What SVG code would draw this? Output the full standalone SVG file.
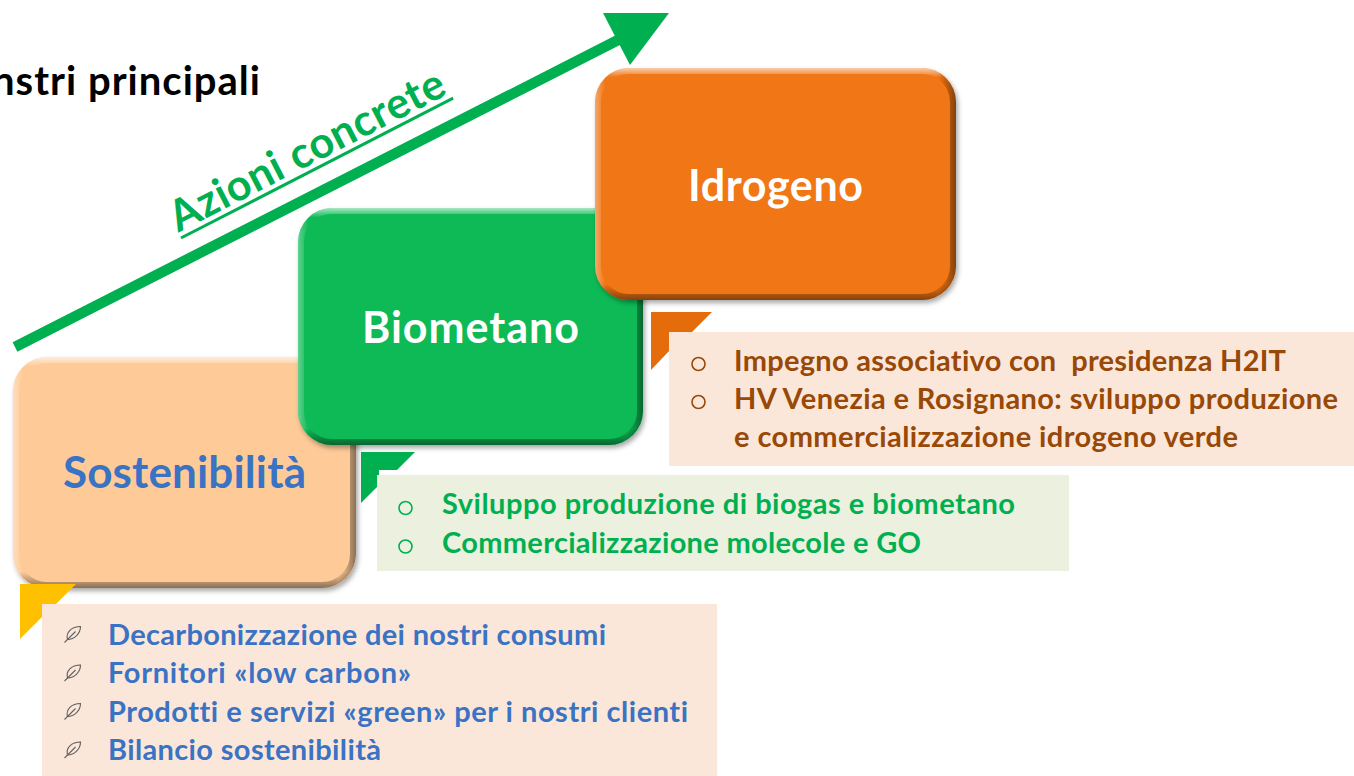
<svg xmlns="http://www.w3.org/2000/svg" width="1354" height="776" viewBox="0 0 1354 776">
<defs>
<style>
.lbl{font-family:Lato,'Open Sans','Liberation Sans',sans-serif;font-weight:700;font-variant-ligatures:none;font-feature-settings:"liga" 0,"clig" 0,"dlig" 0}
.box-title{font-size:43px;text-anchor:middle;fill:#FFFFFF}
.item{font-size:29px}
.blue{fill:#3A72C4}
.brown{fill:#984807}
.green{fill:#00B050}
.bevel-v{fill:none;stroke:url(#bevV);stroke-width:12}
.bevel-h{fill:none;stroke:url(#bevH);stroke-width:12}
.ring-g{fill:none;stroke:#00B050;stroke-width:1.6}
.ring-b{fill:none;stroke:#984807;stroke-width:1.6}
</style>
<linearGradient id="bevV" x1="0" y1="0" x2="0" y2="1">
<stop offset="0" stop-color="#FFFFFF" stop-opacity="0.65"/>
<stop offset="0.04" stop-color="#FFFFFF" stop-opacity="0"/>
<stop offset="0.93" stop-color="#000000" stop-opacity="0"/>
<stop offset="1" stop-color="#000000" stop-opacity="0.45"/>
</linearGradient>
<linearGradient id="bevH" x1="0" y1="0" x2="1" y2="0">
<stop offset="0" stop-color="#FFFFFF" stop-opacity="0.35"/>
<stop offset="0.03" stop-color="#FFFFFF" stop-opacity="0"/>
<stop offset="0.95" stop-color="#000000" stop-opacity="0"/>
<stop offset="1" stop-color="#000000" stop-opacity="0.45"/>
</linearGradient>
<filter id="shadow" x="-10%" y="-10%" width="125%" height="125%">
<feDropShadow dx="2" dy="3" stdDeviation="2.5" flood-color="#000000" flood-opacity="0.35"/>
</filter>
<clipPath id="clipS"><rect x="13" y="357" width="343" height="231" rx="34"/></clipPath>
<clipPath id="clipB"><rect x="298" y="208" width="345" height="237" rx="34"/></clipPath>
<clipPath id="clipI"><rect x="595" y="68" width="361" height="232" rx="34"/></clipPath>
<g id="leaf" fill="none" stroke="#606060" stroke-width="1.1">
<path d="M-5,6 C-7,-1 -1,-7 8,-7 C8,0 2,6 -5,6 Z"/>
<path d="M-8,9 L3,-2"/>
</g>
</defs>

<rect x="0" y="0" width="1354" height="776" fill="#FFFFFF"/>

<g id="title">
<text class="lbl" x="-8" y="95" font-size="40" fill="#000000" textLength="268">nstri principali</text>
</g>

<g id="connectors">
<g id="arrow-azioni">
<line x1="15" y1="347" x2="622" y2="38" stroke="#00B050" stroke-width="10.5"/>
<polygon points="603,13 669,13 630,65" fill="#00B050"/>
<g transform="translate(181,238) rotate(-27.2)">
<text class="lbl green" x="0" y="-6" font-size="43" textLength="304">Azioni concrete</text>
<line x1="0" y1="0" x2="306" y2="0" stroke="#00B050" stroke-width="3"/>
</g>
</g>
</g>

<g id="node-sostenibilita">
<rect x="13" y="357" width="343" height="231" rx="34" fill="#FECB98" filter="url(#shadow)"/>
<g clip-path="url(#clipS)">
<rect x="13" y="357" width="343" height="231" rx="34" class="bevel-v"/>
<rect x="13" y="357" width="343" height="231" rx="34" class="bevel-h"/>
</g>
<text class="lbl blue" x="184.5" y="488" font-size="44" text-anchor="middle" textLength="243">Sostenibilità</text>
</g>

<g id="node-biometano">
<rect x="298" y="208" width="345" height="237" rx="34" fill="#08BA56" filter="url(#shadow)"/>
<g clip-path="url(#clipB)">
<rect x="298" y="208" width="345" height="237" rx="34" class="bevel-v"/>
<rect x="298" y="208" width="345" height="237" rx="34" class="bevel-h"/>
</g>
<text class="lbl box-title" x="470.5" y="343" textLength="217">Biometano</text>
</g>

<g id="node-idrogeno">
<rect x="595" y="68" width="361" height="232" rx="34" fill="#F07613" filter="url(#shadow)"/>
<g clip-path="url(#clipI)">
<rect x="595" y="68" width="361" height="232" rx="34" class="bevel-v"/>
<rect x="595" y="68" width="361" height="232" rx="34" class="bevel-h"/>
</g>
<text class="lbl box-title" x="775.5" y="201" textLength="175">Idrogeno</text>
</g>

<g id="callout-idrogeno">
<polygon points="651,312 712,312 692,332 670,332 670,350 651,370" fill="#E46C0A"/>
<rect x="669" y="332" width="690" height="134" fill="#FBE7D9"/>
<circle cx="698.5" cy="364" r="6.5" class="ring-b"/>
<circle cx="698.5" cy="402" r="6.5" class="ring-b"/>
<text class="lbl item brown" x="734" y="371" textLength="552" style="white-space:pre">Impegno associativo con  presidenza H2IT</text>
<text class="lbl item brown" x="734" y="408.5" textLength="604">HV Venezia e Rosignano: sviluppo produzione</text>
<text class="lbl item brown" x="734" y="446.5" textLength="504">e commercializzazione idrogeno verde</text>
</g>

<g id="callout-biometano">
<polygon points="361,452 415,452 397,470 379,470 379,485 361,503" fill="#00B050"/>
<rect x="377" y="475" width="692" height="96" fill="#EBF1DE"/>
<circle cx="405.5" cy="508" r="6.5" class="ring-g"/>
<circle cx="405.5" cy="546.5" r="6.5" class="ring-g"/>
<text class="lbl item green" x="442" y="514" textLength="573">Sviluppo produzione di biogas e biometano</text>
<text class="lbl item green" x="442" y="553" textLength="479">Commercializzazione molecole e GO</text>
</g>

<g id="callout-sostenibilita">
<polygon points="20,584 76,584 56,604 42,604 42,617 20,639" fill="#FFC000"/>
<rect x="42" y="604" width="675" height="176" fill="#FBE7D9"/>
<use href="#leaf" transform="translate(72.5,633.5)"/>
<use href="#leaf" transform="translate(72.5,672)"/>
<use href="#leaf" transform="translate(72.5,710.5)"/>
<use href="#leaf" transform="translate(72.5,749)"/>
<text class="lbl item blue" x="108" y="645" textLength="498">Decarbonizzazione dei nostri consumi</text>
<text class="lbl item blue" x="108" y="683" textLength="303">Fornitori «low carbon»</text>
<text class="lbl item blue" x="108" y="721.5" textLength="580">Prodotti e servizi «green» per i nostri clienti</text>
<text class="lbl item blue" x="108" y="760" textLength="273">Bilancio sostenibilità</text>
</g>
</svg>
